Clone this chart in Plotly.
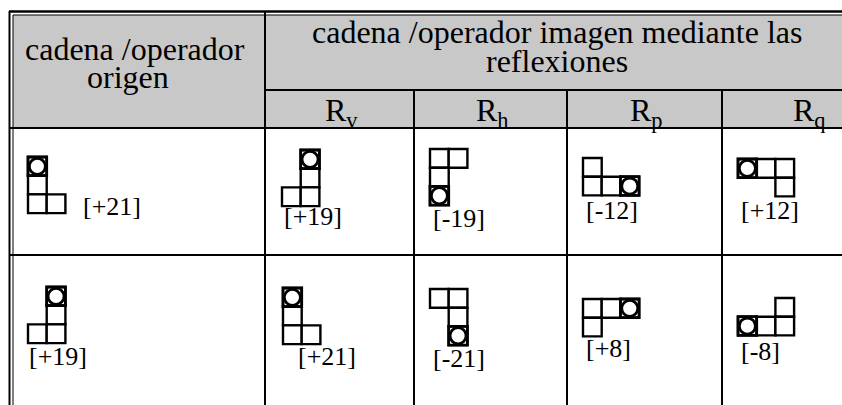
import plotly.graph_objects as go

# ---------------- data ----------------
header_origin = ["cadena /operador", "origen"]
header_group = ["cadena /operador imagen mediante las", "reflexiones"]
sub_headers = ["R<sub>v</sub>", "R<sub>h</sub>", "R<sub>p</sub>", "R<sub>q</sub>"]

# polyomino cells as (col, row) in grid units, plus the circled cell
row1_cells = [
    [(0, 0), (0, 1), (0, 2), (1, 2)],
    [(1, 0), (1, 1), (0, 2), (1, 2)],
    [(0, 0), (1, 0), (0, 1), (0, 2)],
    [(0, 0), (0, 1), (1, 1), (2, 1)],
    [(0, 0), (1, 0), (2, 0), (2, 1)],
]
row1_circle = [(0, 0), (1, 0), (0, 2), (2, 1), (0, 0)]
row1_labels = ["[+21]", "[+19]", "[-19]", "[-12]", "[+12]"]

row2_cells = [
    [(1, 0), (1, 1), (0, 2), (1, 2)],
    [(0, 0), (0, 1), (0, 2), (1, 2)],
    [(0, 0), (1, 0), (1, 1), (1, 2)],
    [(0, 0), (1, 0), (2, 0), (0, 1)],
    [(2, 0), (0, 1), (1, 1), (2, 1)],
]
row2_circle = [(1, 0), (0, 0), (1, 2), (2, 0), (0, 1)]
row2_labels = ["[+19]", "[+21]", "[-21]", "[+8]", "[-8]"]

# ---------------- layout (page pixels) ----------------
W, H = 842, 405
col_x = [11, 265, 414, 567, 722]
y_mid, y_head, y_row = 90, 128, 255
CELL = 18.7
row1_origin = [(28, 157), (282, 150), (430, 149), (583, 158), (738, 159)]
row1_lab = [(81, 218), (282, 228), (431, 230), (584, 222), (739, 222)]
row2_origin = [(28, 287), (283, 288), (430, 289), (583, 299), (738, 298)]
row2_lab = [(27, 368), (296, 368), (431, 370), (584, 360), (739, 363)]

SERIF = "Liberation Serif, Times New Roman, serif"
GRAY = "#c8c8c8"

shapes = []
annotations = []


def line(x0, y0, x1, y1, w=2):
    shapes.append(dict(type="line", x0=x0, y0=y0, x1=x1, y1=y1, xref="x", yref="y",
                       line=dict(color="black", width=w)))


# header background
shapes.append(dict(type="rect", x0=13, y0=15, x1=W + 5, y1=y_head, xref="x", yref="y",
                   line=dict(width=0), fillcolor=GRAY, layer="below"))

# borders (double outer lines)
line(9, 11.5, W + 5, 11.5, 2.5)
line(13, 15, W + 5, 15, 1)
line(9.5, 11, 9.5, H + 5, 2)
line(13, 15, 13, H + 5, 1)

# grid
line(col_x[1], 12, col_x[1], H + 5, 2)
for cx in col_x[2:]:
    line(cx, y_mid, cx, H + 5, 2)
line(col_x[1], y_mid, W + 5, y_mid, 2)
line(9, y_head, W + 5, y_head, 2)
line(9, y_row, W + 5, y_row, 2)


def text(x, y_base, s, size, xanchor="center", k=0.34):
    annotations.append(dict(x=x, y=y_base - k * size, text=s, showarrow=False,
                            xref="x", yref="y", xanchor=xanchor, yanchor="middle",
                            font=dict(family=SERIF, size=size, color="black")))


# header texts
text(135, 60, header_origin[0], 32)
text(128, 88, header_origin[1], 32)
text(557, 43, header_group[0], 32)
text(557, 72, header_group[1], 32)
for i, s in enumerate(sub_headers):
    cx = (col_x[i + 1] + (col_x[i + 2] if i + 2 < len(col_x) else 892)) / 2
    text(cx + 2, 123, s, 32)


def polyomino(origin, cells, circ):
    ox, oy = origin
    for (c, r) in cells:
        x0, y0 = ox + c * CELL, oy + r * CELL
        shapes.append(dict(type="rect", x0=x0, y0=y0, x1=x0 + CELL, y1=y0 + CELL,
                           xref="x", yref="y", line=dict(color="black", width=2.4),
                           fillcolor="white"))
    c, r = circ
    x0, y0 = ox + c * CELL, oy + r * CELL
    shapes.append(dict(type="rect", x0=x0, y0=y0, x1=x0 + CELL, y1=y0 + CELL,
                       xref="x", yref="y", line=dict(color="black", width=2.8)))
    shapes.append(dict(type="circle", x0=x0 + 1.3, y0=y0 + 1.3, x1=x0 + CELL - 1.3,
                       y1=y0 + CELL - 1.3, xref="x", yref="y",
                       line=dict(color="black", width=2.8), fillcolor="white"))


for origins, labs, cells_list, circs, labels in [
    (row1_origin, row1_lab, row1_cells, row1_circle, row1_labels),
    (row2_origin, row2_lab, row2_cells, row2_circle, row2_labels),
]:
    for o, lp, cells, circ, lab in zip(origins, labs, cells_list, circs, labels):
        polyomino(o, cells, circ)
        text(lp[0], lp[1], lab, 26, xanchor="left", k=0.46)

fig = go.Figure()
fig.update_layout(
    width=W, height=H, margin=dict(l=0, r=0, t=0, b=0),
    paper_bgcolor="white", plot_bgcolor="white",
    xaxis=dict(range=[0, W], visible=False, fixedrange=True),
    yaxis=dict(range=[H, 0], visible=False, fixedrange=True),
    shapes=shapes, annotations=annotations, showlegend=False,
)
fig.write_html(
    "out.html",
    config={"displayModeBar": False, "staticPlot": True},
    post_script="document.body.style.margin='0';document.body.style.overflow='hidden';",
)
